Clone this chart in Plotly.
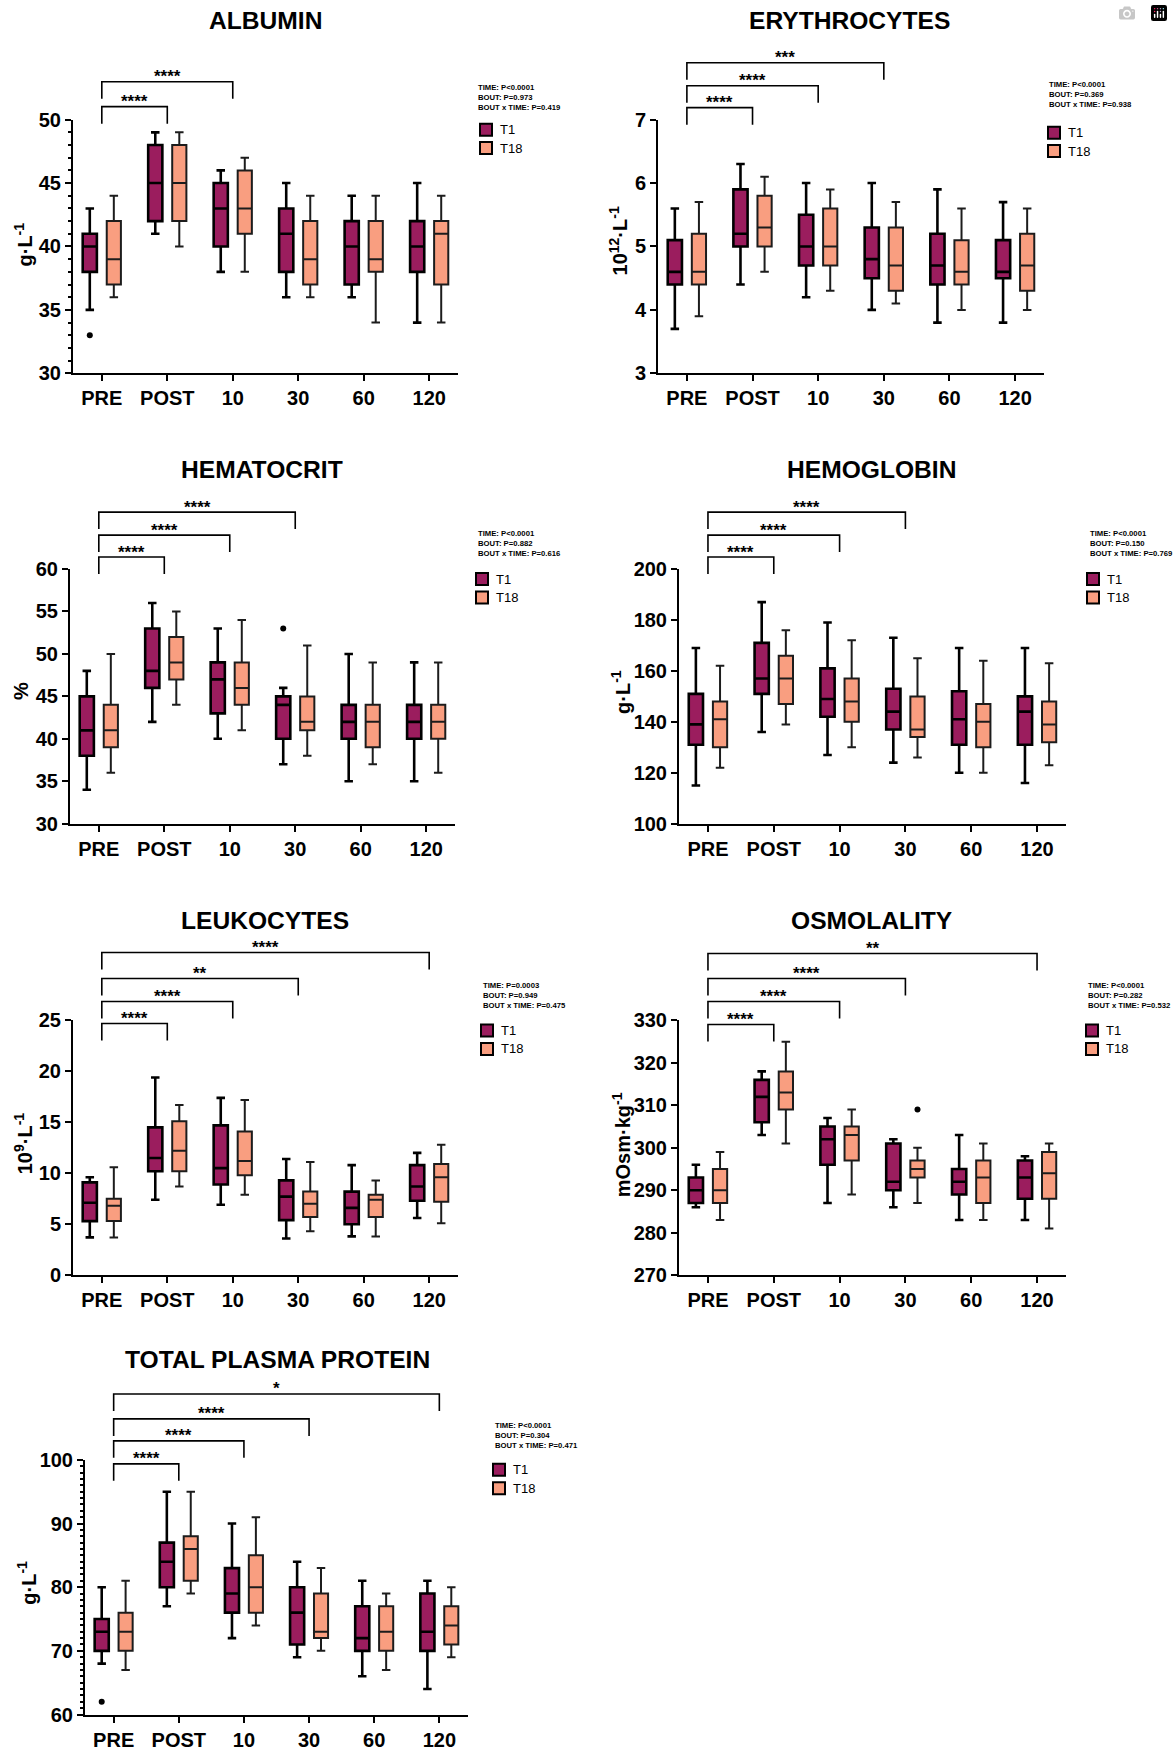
import plotly.graph_objects as go

W, H = 1173, 1751
FONT = "Liberation Sans, Arial, Helvetica, sans-serif"

categories = ["PRE", "POST", "10", "30", "60", "120"]
group_names = ["T1", "T18"]
group_colors = ["#9B1D5E", "#F99E80"]

# each series: rows = [lower whisker, Q1, median, Q3, upper whisker], one value per category
albumin_t1 = [[35, 41, 38, 36, 36, 34],
              [38, 42, 40, 38, 37, 38],
              [40, 45, 43, 41, 40, 40],
              [41, 48, 45, 43, 42, 42],
              [43, 49, 46, 45, 44, 45]]
albumin_t18 = [[36, 40, 38, 36, 34, 34],
               [37, 42, 41, 37, 38, 37],
               [39, 45, 43, 39, 39, 41],
               [42, 48, 46, 42, 42, 42],
               [44, 49, 47, 44, 44, 44]]
albumin_t1_out = [[33], [], [], [], [], []]
albumin_t18_out = [[], [], [], [], [], []]

eryth_t1 = [[3.7, 4.4, 4.2, 4.0, 3.8, 3.8],
            [4.4, 5.0, 4.7, 4.5, 4.4, 4.5],
            [4.6, 5.2, 5.0, 4.8, 4.7, 4.6],
            [5.1, 5.9, 5.5, 5.3, 5.2, 5.1],
            [5.6, 6.3, 6.0, 6.0, 5.9, 5.7]]
eryth_t18 = [[3.9, 4.6, 4.3, 4.1, 4.0, 4.0],
             [4.4, 5.0, 4.7, 4.3, 4.4, 4.3],
             [4.6, 5.3, 5.0, 4.7, 4.6, 4.7],
             [5.2, 5.8, 5.6, 5.3, 5.1, 5.2],
             [5.7, 6.1, 5.9, 5.7, 5.6, 5.6]]
eryth_t1_out = [[], [], [], [], [], []]
eryth_t18_out = [[], [], [], [], [], []]

hct_t1 = [[34, 42, 40, 37, 35, 35],
          [38, 46, 43, 40, 40, 40],
          [41, 48, 47, 44, 42, 42],
          [45, 53, 49, 45, 44, 44],
          [48, 56, 53, 46, 50, 49]]
hct_t18 = [[36, 44, 41, 38, 37, 36],
           [39, 47, 44, 41, 39, 40],
           [41, 49, 46, 42, 42, 42],
           [44, 52, 49, 45, 44, 44],
           [50, 55, 54, 51, 49, 49]]
hct_t1_out = [[], [], [], [53], [], []]
hct_t18_out = [[], [], [], [], [], []]

hgb_t1 = [[115, 136, 127, 124, 120, 116],
          [131, 151, 142, 137, 131, 131],
          [139, 157, 149, 144, 141, 144],
          [151, 171, 161, 153, 152, 150],
          [169, 187, 179, 173, 169, 169]]
hgb_t18 = [[122, 139, 130, 126, 120, 123],
           [130, 147, 140, 134, 130, 132],
           [141, 157, 148, 137, 140, 139],
           [148, 166, 157, 150, 147, 148],
           [162, 176, 172, 165, 164, 163]]
hgb_t1_out = [[], [], [], [], [], []]
hgb_t18_out = [[], [], [], [], [], []]

leuk_t1 = [[3.7, 7.4, 6.9, 3.6, 3.8, 5.6],
           [5.3, 10.2, 8.9, 5.4, 5.0, 7.3],
           [7.1, 11.5, 10.5, 7.7, 6.6, 8.7],
           [9.1, 14.5, 14.7, 9.3, 8.2, 10.8],
           [9.6, 19.4, 17.4, 11.4, 10.8, 12.0]]
leuk_t18 = [[3.7, 8.7, 7.9, 4.3, 3.8, 5.1],
            [5.3, 10.2, 9.8, 5.7, 5.7, 7.2],
            [6.8, 12.2, 11.2, 7.0, 7.4, 9.6],
            [7.5, 15.1, 14.1, 8.2, 7.9, 10.9],
            [10.6, 16.7, 17.2, 11.1, 9.3, 12.8]]
leuk_t1_out = [[], [], [], [], [], []]
leuk_t18_out = [[], [], [], [], [], []]

osm_t1 = [[286, 303, 287, 286, 283, 283],
          [287, 306, 296, 290, 289, 288],
          [290, 312, 302, 292, 292, 293],
          [293, 316, 305, 301, 295, 297],
          [296, 318, 307, 302, 303, 298]]
osm_t18 = [[283, 301, 289, 287, 283, 281],
           [287, 309, 297, 293, 287, 288],
           [290, 313, 303, 295, 293, 294],
           [295, 318, 305, 297, 297, 299],
           [299, 325, 309, 300, 301, 301]]
osm_t1_out = [[], [], [], [], [], []]
osm_t18_out = [[], [], [], [309], [], []]

tpp_t1 = [[68, 77, 72, 69, 66, 64],
          [70, 80, 76, 71, 70, 70],
          [73, 84, 79, 76, 72, 73],
          [75, 87, 83, 80, 77, 79],
          [80, 95, 90, 84, 81, 81]]
tpp_t18 = [[67, 79, 74, 70, 67, 69],
           [70, 81, 76, 72, 70, 71],
           [73, 86, 80, 73, 73, 74],
           [76, 88, 85, 79, 77, 77],
           [81, 95, 91, 83, 79, 80]]
tpp_t1_out = [[62], [], [], [], [], []]
tpp_t18_out = [[], [], [], [], [], []]

# ANOVA results text
stats_albumin = ["TIME: P<0.0001", "BOUT: P=0.973", "BOUT x TIME: P=0.419"]
stats_eryth = ["TIME: P<0.0001", "BOUT: P=0.369", "BOUT x TIME: P=0.938"]
stats_hct = ["TIME: P<0.0001", "BOUT: P=0.882", "BOUT x TIME: P=0.616"]
stats_hgb = ["TIME: P<0.0001", "BOUT: P=0.150", "BOUT x TIME: P=0.769"]
stats_leuk = ["TIME: P=0.0003", "BOUT: P=0.949", "BOUT x TIME: P=0.475"]
stats_osm = ["TIME: P<0.0001", "BOUT: P=0.282", "BOUT x TIME: P=0.532"]
stats_tpp = ["TIME: P<0.0001", "BOUT: P=0.304", "BOUT x TIME: P=0.471"]

# post-hoc comparisons vs PRE: (target category, significance)
comp_albumin = [("POST", "****"), ("10", "****")]
comp_eryth = [("POST", "****"), ("10", "****"), ("30", "***")]
comp_hct = [("POST", "****"), ("10", "****"), ("30", "****")]
comp_hgb = [("POST", "****"), ("10", "****"), ("30", "****")]
comp_leuk = [("POST", "****"), ("10", "****"), ("30", "**"), ("120", "****")]
comp_osm = [("POST", "****"), ("10", "****"), ("30", "****"), ("120", "**")]
comp_tpp = [("POST", "****"), ("10", "****"), ("30", "****"), ("120", "*")]

panels = [
    dict(title="ALBUMIN", ytitle="g·L<sup>-1</sup>", yrange=[30, 50], dtick=5, minor=1,
         series=[albumin_t1, albumin_t18], outs=[albumin_t1_out, albumin_t18_out],
         stats=stats_albumin, comps=comp_albumin,
         box=(73, 458, 120, 374), title_xy=(265, 21), ytitle_xy=(23, 245),
         stats_xy=(476, 87), legend_xy=(480, 130), bracket_y=[107, 82]),
    dict(title="ERYTHROCYTES", ytitle="10<sup>12</sup>·L<sup>-1</sup>", yrange=[3, 7], dtick=1, minor=None,
         series=[eryth_t1, eryth_t18], outs=[eryth_t1_out, eryth_t18_out],
         stats=stats_eryth, comps=comp_eryth,
         box=(658, 1044, 120, 374), title_xy=(849, 21), ytitle_xy=(618, 242),
         stats_xy=(1047, 84), legend_xy=(1048, 133), bracket_y=[108, 86, 63]),
    dict(title="HEMATOCRIT", ytitle="%", yrange=[30, 60], dtick=5, minor=None,
         series=[hct_t1, hct_t18], outs=[hct_t1_out, hct_t18_out],
         stats=stats_hct, comps=comp_hct,
         box=(70, 455, 570, 825), title_xy=(262, 470), ytitle_xy=(21, 692),
         stats_xy=(476, 534), legend_xy=(476, 580), bracket_y=[558, 536, 513]),
    dict(title="HEMOGLOBIN", ytitle="g·L<sup>-1</sup>", yrange=[100, 200], dtick=20, minor=None,
         series=[hgb_t1, hgb_t18], outs=[hgb_t1_out, hgb_t18_out],
         stats=stats_hgb, comps=comp_hgb,
         box=(679, 1066, 570, 825), title_xy=(872, 470), ytitle_xy=(621, 693),
         stats_xy=(1088, 534), legend_xy=(1087, 580), bracket_y=[558, 536, 513]),
    dict(title="LEUKOCYTES", ytitle="10<sup>9</sup>·L<sup>-1</sup>", yrange=[0, 25], dtick=5, minor=None,
         series=[leuk_t1, leuk_t18], outs=[leuk_t1_out, leuk_t18_out],
         stats=stats_leuk, comps=comp_leuk,
         box=(73, 458, 1022, 1277), title_xy=(265, 922), ytitle_xy=(23, 1145),
         stats_xy=(481, 986), legend_xy=(481, 1032), bracket_y=[1025, 1003, 980, 954]),
    dict(title="OSMOLALITY", ytitle="mOsm·kg<sup>-1</sup>", yrange=[270, 330], dtick=10, minor=None,
         series=[osm_t1, osm_t18], outs=[osm_t1_out, osm_t18_out],
         stats=stats_osm, comps=comp_osm,
         box=(679, 1066, 1022, 1277), title_xy=(872, 922), ytitle_xy=(621, 1147),
         stats_xy=(1086, 986), legend_xy=(1086, 1032), bracket_y=[1026, 1003, 980, 955]),
    dict(title="TOTAL PLASMA PROTEIN", ytitle="g·L<sup>-1</sup>", yrange=[60, 100], dtick=10, minor=1,
         series=[tpp_t1, tpp_t18], outs=[tpp_t1_out, tpp_t18_out],
         stats=stats_tpp, comps=comp_tpp,
         box=(85, 468, 1462, 1717), title_xy=(277, 1362), ytitle_xy=(27, 1585),
         stats_xy=(493, 1427), legend_xy=(493, 1472), bracket_y=[1466, 1443, 1421, 1396]),
]

# vertical correction measured from the captured page (capture maps y -> 11.2 + 0.9859*y)
Y_OFF, Y_SCALE = 11.2, 0.9859


def px(x):
    return x / W


def py(y):
    return 1 - ((y - Y_OFF) / Y_SCALE) / H


fig = go.Figure()
shapes, annotations = [], []
line_styles = [dict(color="black", width=2.6), dict(color="#1c1c1c", width=2.0)]

for n, p in enumerate(panels, start=1):
    sid = "" if n == 1 else str(n)
    xa, ya = "x" + sid, "y" + sid
    for name, color, lstyle, stats, outl in zip(group_names, group_colors, line_styles,
                                                p["series"], p["outs"]):
        low, q1, med, q3, high = stats
        has_out = any(len(o) for o in outl)
        pts = [list(o) if o else [None] for o in outl] if has_out else None
        fig.add_trace(go.Box(
            x=categories, y=pts,
            lowerfence=low, q1=q1, median=med, q3=q3, upperfence=high,
            orientation="v", boxpoints="outliers" if has_out else False,
            jitter=0, pointpos=0, offsetgroup=name,
            name=name, fillcolor=color, line=lstyle,
            marker=dict(color="black", size=6), whiskerwidth=0.6,
            showlegend=False, hoverinfo="skip", xaxis=xa, yaxis=ya))

    x0, x1, yt, yb = p["box"]
    tickfont = dict(family=FONT, size=20, color="black", weight="bold")
    xaxis = dict(domain=[px(x0), px(x1)], anchor=ya, type="category", range=[-0.44, 5.44],
                 categoryorder="array", categoryarray=categories,
                 showline=True, linewidth=2, linecolor="black", ticks="outside", ticklen=6,
                 tickwidth=2, tickcolor="black", showgrid=False, zeroline=False,
                 tickfont=tickfont, fixedrange=True)
    yaxis = dict(domain=[py(yb), py(yt)], anchor=xa, range=p["yrange"], dtick=p["dtick"],
                 tick0=p["yrange"][0], showline=True, linewidth=2, linecolor="black",
                 ticks="outside", ticklen=6, tickwidth=2, tickcolor="black", showgrid=False,
                 zeroline=False, tickfont=tickfont, fixedrange=True)
    if p["minor"]:
        yaxis["minor"] = dict(dtick=p["minor"], ticks="outside", ticklen=3, tickwidth=1.5,
                              tickcolor="black", showgrid=False)
    fig.update_layout(**{"xaxis" + sid: xaxis, "yaxis" + sid: yaxis})

    # title
    tx, ty = p["title_xy"]
    annotations.append(dict(text=p["title"], x=px(tx), y=py(ty), xref="paper", yref="paper",
                            xanchor="center", yanchor="middle", showarrow=False,
                            font=dict(family=FONT, size=24.6, color="black", weight="bold")))
    # y-axis title
    ax_, ay_ = p["ytitle_xy"]
    annotations.append(dict(text=p["ytitle"], x=px(ax_), y=py(ay_), xref="paper", yref="paper",
                            xanchor="center", yanchor="middle", textangle=-90, showarrow=False,
                            font=dict(family=FONT, size=20, color="black", weight="bold")))
    # ANOVA stats
    sx, sy = p["stats_xy"]
    annotations.append(dict(text="<br>".join(p["stats"]), x=px(sx), y=py(sy - 6),
                            xref="paper", yref="paper", xanchor="left", yanchor="top",
                            align="left", showarrow=False,
                            font=dict(family=FONT, size=7.7, color="black", weight="bold")))
    # legend
    lx, ly = p["legend_xy"]
    for k, (name, color) in enumerate(zip(group_names, group_colors)):
        cy = ly + k * 18.5
        shapes.append(dict(type="rect", xref="paper", yref="paper",
                           x0=px(lx), x1=px(lx + 12), y0=py(cy + 6), y1=py(cy - 6),
                           fillcolor=color, line=dict(color="black", width=2)))
        annotations.append(dict(text=name, x=px(lx + 18), y=py(cy), xref="paper", yref="paper",
                                xanchor="left", yanchor="middle", showarrow=False,
                                font=dict(family=FONT, size=13, color="black")))
    # significance brackets vs PRE
    for (target, label), by in zip(p["comps"], p["bracket_y"]):
        i0, i1 = 0, categories.index(target)
        path = "M {a},{d} L {a},{b} L {c},{b} L {c},{d}".format(
            a=i0, b=py(by), c=i1, d=py(by + 17))
        shapes.append(dict(type="path", path=path, xref=xa, yref="paper",
                           line=dict(color="black", width=1.6)))
        annotations.append(dict(text=label, x=(i0 + i1) / 2, y=py(by - 5), xref=xa,
                                yref="paper", xanchor="center", yanchor="middle",
                                showarrow=False,
                                font=dict(family=FONT, size=17, color="black", weight="bold")))

fig.update_layout(
    width=W, height=H, margin=dict(l=0, r=0, t=0, b=0),
    paper_bgcolor="white", plot_bgcolor="white", showlegend=False,
    boxmode="group", boxgap=0.266, boxgroupgap=0.41,
    shapes=shapes, annotations=annotations,
    font=dict(family=FONT, color="black"),
)

fig.write_html("out.html", post_script="document.body.style.margin='0px';")
